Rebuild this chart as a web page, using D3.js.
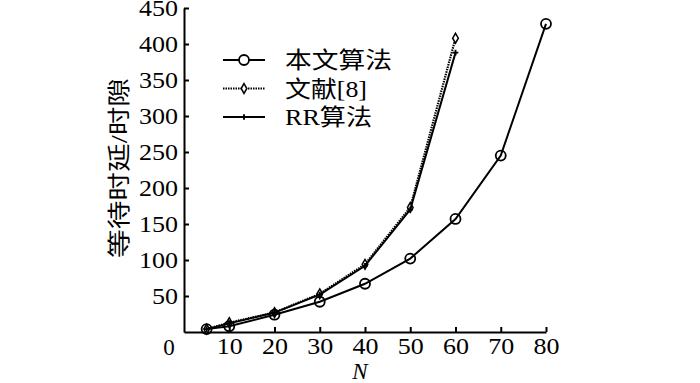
<!DOCTYPE html>
<html>
<head>
    <meta charset="UTF-8">
    <title>等待时延</title>
    <script src="https://d3js.org/d3.v7.min.js"></script>
    <style>
        body { margin: 0; background: white; }
        text { font-family: "Liberation Serif", "Times New Roman", "Noto Sans CJK SC", serif; fill: black; }
        .axis path, .axis line { stroke: black; stroke-width: 2px; }
        .axis text { font-size: 23px; }
    </style>
</head>
<body>
    <script>
        var width = 700, height = 383;
        var serif = "'Liberation Serif', 'Times New Roman', 'Noto Sans CJK SC', serif";

        // data
        var nValues = [5, 10, 20, 30, 40, 50, 60, 70, 80];
        var oursValues = [4, 8, 24, 42, 67, 102, 157, 245, 428];
        var refNValues = [5, 10, 20, 30, 40, 50, 60];
        var ref8Values = [4, 13, 27, 53, 94, 173, 408];
        var rrValues = [4, 12, 27, 52, 92, 170, 388];
        var seriesNames = ["本文算法", "文献[8]", "RR算法"];
        var xTicks = [10, 20, 30, 40, 50, 60, 70, 80];
        var yTicks = [50, 100, 150, 200, 250, 300, 350, 400, 450];

        var svg = d3.select("body").append("svg")
            .attr("width", width).attr("height", height);

        var x = d3.scaleLinear().domain([0, 80]).range([184, 546]);
        var y = d3.scaleLinear().domain([0, 450]).range([332, 8]);

        // axes, ticks pointing inward
        var xAxis = svg.append("g").attr("class", "axis")
            .attr("transform", "translate(0," + y(0) + ")")
            .call(d3.axisBottom(x).tickValues(xTicks).tickSizeInner(-5).tickSizeOuter(0).tickPadding(4));
        xAxis.attr("font-family", serif).attr("font-size", 23);
        xAxis.selectAll("text").attr("dy", "0.8em")
            .attr("textLength", function (d) { return String(d).length * 13; })
            .attr("lengthAdjust", "spacingAndGlyphs");

        var yAxis = svg.append("g").attr("class", "axis")
            .attr("transform", "translate(" + x(0) + ",0)")
            .call(d3.axisLeft(y).tickValues(yTicks).tickSizeInner(-5).tickSizeOuter(0).tickPadding(6));
        yAxis.attr("font-family", serif).attr("font-size", 23);
        yAxis.selectAll("text")
            .attr("textLength", function (d) { return String(d).length * 13; })
            .attr("lengthAdjust", "spacingAndGlyphs");

        svg.append("text").attr("x", 169).attr("y", 347).attr("dy", "0.35em")
            .attr("text-anchor", "middle").style("font-size", "23px").text("0");

        // axis titles
        svg.append("text").attr("x", 360).attr("y", 371).attr("dy", "0.35em")
            .attr("text-anchor", "middle").style("font-size", "23px").style("font-style", "italic").text("N");

        svg.append("text").attr("transform", "translate(119,168) rotate(-90)")
            .attr("text-anchor", "middle").attr("dy", "0.35em")
            .attr("textLength", 180).attr("lengthAdjust", "spacingAndGlyphs")
            .style("font-size", "23px").text("等待时延/时隙");

        var line = d3.line().x(function (d) { return x(d[0]); }).y(function (d) { return y(d[1]); });

        var ours = d3.zip(nValues, oursValues);
        var ref8 = d3.zip(refNValues, ref8Values);
        var rr = d3.zip(refNValues, rrValues);

        // 文献[8], dotted with diamonds
        svg.append("path").attr("d", line(ref8)).attr("fill", "none")
            .attr("stroke", "black").attr("stroke-width", 2.2).attr("stroke-dasharray", "1.5,1");
        var diamond = d3.symbol().type(d3.symbolDiamond).size(28);
        svg.selectAll(".dia").data(ref8).enter().append("path").attr("class", "dia")
            .attr("d", diamond)
            .attr("transform", function (d) { return "translate(" + x(d[0]) + "," + y(d[1]) + ")"; })
            .attr("fill", "white").attr("stroke", "black").attr("stroke-width", 1.5);

        // RR算法, solid with small crosses
        svg.append("path").attr("d", line(rr)).attr("fill", "none")
            .attr("stroke", "black").attr("stroke-width", 2);
        var cross = d3.symbol().type(d3.symbolCross).size(18);
        svg.selectAll(".rr").data(rr).enter().append("path").attr("class", "rr")
            .attr("d", cross)
            .attr("transform", function (d) { return "translate(" + x(d[0]) + "," + y(d[1]) + ")"; })
            .attr("fill", "black");

        // 本文算法, solid with open circles
        svg.append("path").attr("d", line(ours)).attr("fill", "none")
            .attr("stroke", "black").attr("stroke-width", 2);
        svg.selectAll(".pt").data(ours).enter().append("circle").attr("class", "pt")
            .attr("cx", function (d) { return x(d[0]); })
            .attr("cy", function (d) { return y(d[1]); })
            .attr("r", 5).attr("fill", "none").attr("stroke", "black").attr("stroke-width", 1.8);

        // legend
        var legend = svg.append("g").selectAll("g").data(seriesNames).enter().append("g")
            .attr("transform", function (d, i) { return "translate(223," + (60 + i * 28.5) + ")"; });

        legend.append("line").attr("x1", 0).attr("x2", 42).attr("y1", 0).attr("y2", 0)
            .attr("stroke", "black")
            .attr("stroke-width", function (d, i) { return i === 1 ? 2.2 : 2; })
            .attr("stroke-dasharray", function (d, i) { return i === 1 ? "1.5,1" : null; });

        legend.each(function (d, i) {
            var g = d3.select(this);
            if (i === 0) {
                g.append("circle").attr("cx", 21).attr("r", 5)
                    .attr("fill", "white").attr("stroke", "black").attr("stroke-width", 1.8);
            } else if (i === 1) {
                g.append("path").attr("d", diamond).attr("transform", "translate(21,0)")
                    .attr("fill", "white").attr("stroke", "black").attr("stroke-width", 1.5);
            } else {
                g.append("path").attr("d", cross).attr("transform", "translate(21,0)").attr("fill", "black");
            }
        });

        var legendWidths = [107, 82, 87];
        legend.append("text").attr("x", 62).attr("dy", "0.35em")
            .attr("textLength", function (d, i) { return legendWidths[i]; })
            .attr("lengthAdjust", "spacingAndGlyphs")
            .style("font-size", "23px").text(function (d) { return d; });
    </script>
</body>
</html>
